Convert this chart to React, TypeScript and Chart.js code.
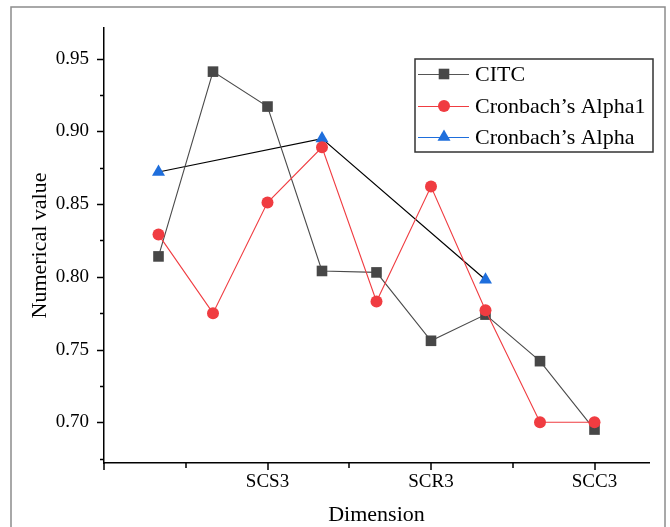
import React, { useEffect, useRef } from 'react';
import { Chart, registerables } from 'chart.js';

Chart.register(...registerables);

const categories = ['SCS1', 'SCS2', 'SCS3', 'SCR1', 'SCR2', 'SCR3', 'SCC1', 'SCC2', 'SCC3'];
const citcValues = [0.814, 0.941, 0.917, 0.804, 0.803, 0.756, 0.774, 0.742, 0.695];
const alpha1Values = [0.829, 0.775, 0.851, 0.889, 0.783, 0.862, 0.777, 0.7, 0.7];
const alphaCategories = ['SCS1', 'SCR1', 'SCC1'];
const alphaValues = [0.872, 0.895, 0.798];
const xTickLabels = ['SCS3', 'SCR3', 'SCC3'];
const yMajorTicks = [0.7, 0.75, 0.8, 0.85, 0.9, 0.95];
const yMinorTicks = [0.675, 0.725, 0.775, 0.825, 0.875, 0.925];
const seriesNames = ['CITC', 'Cronbach\u2019s Alpha1', 'Cronbach\u2019s Alpha'];

const FONT = '"Liberation Serif", "Times New Roman", serif';
const GRAY = '#474747';
const RED = '#f03c41';
const BLUE = '#1e6edc';

const xPos = (c: string) => categories.indexOf(c) + 1;
const xMajorPos = xTickLabels.map(xPos);

function drawMarker(ctx: CanvasRenderingContext2D, style: string, x: number, y: number, color: string) {
  ctx.save();
  ctx.fillStyle = color;
  ctx.beginPath();
  if (style === 'rect') {
    ctx.rect(x - 5.3, y - 5.3, 10.6, 10.6);
  } else if (style === 'circle') {
    ctx.arc(x, y, 6, 0, Math.PI * 2);
  } else {
    const r = 7.5;
    ctx.moveTo(x, y - r);
    ctx.lineTo(x + r * 0.866, y + r * 0.5);
    ctx.lineTo(x - r * 0.866, y + r * 0.5);
    ctx.closePath();
  }
  ctx.fill();
  ctx.restore();
}

const framePlugin = {
  id: 'frame',
  beforeDraw(chart: any) {
    const ctx = chart.ctx;
    ctx.save();
    ctx.fillStyle = '#fff';
    ctx.fillRect(0, 0, chart.width, chart.height);
    ctx.strokeStyle = '#8c8c8c';
    ctx.lineWidth = 1.5;
    ctx.strokeRect(11, 7, 654, 540);
    ctx.restore();
  },
};

const ticksPlugin = {
  id: 'customTicks',
  afterDraw(chart: any) {
    const ctx = chart.ctx;
    const xs = chart.scales.x;
    const ys = chart.scales.y;
    const area = chart.chartArea;
    ctx.save();
    ctx.strokeStyle = '#000';
    ctx.lineWidth = 1.5;
    ctx.beginPath();
    yMajorTicks.forEach((v) => {
      const y = Math.round(ys.getPixelForValue(v)) + 0.5;
      ctx.moveTo(area.left - 7, y);
      ctx.lineTo(area.left, y);
    });
    yMinorTicks.forEach((v) => {
      const y = Math.round(ys.getPixelForValue(v)) + 0.5;
      ctx.moveTo(area.left - 4, y);
      ctx.lineTo(area.left, y);
    });
    const xt = [0, 1.5, 3, 4.5, 6, 7.5, 9];
    xt.forEach((v) => {
      const x = Math.round(xs.getPixelForValue(v));
      const major = xMajorPos.includes(v) || v === 0;
      ctx.moveTo(x, area.bottom);
      ctx.lineTo(x, area.bottom + (major ? 7 : 5));
    });
    ctx.stroke();
    ctx.restore();
  },
};

const legendPlugin = {
  id: 'customLegend',
  afterDraw(chart: any) {
    const ctx = chart.ctx;
    ctx.save();
    ctx.strokeStyle = '#333';
    ctx.lineWidth = 1.5;
    ctx.strokeRect(415, 59, 238, 93);
    const rows = [
      { y: 74, color: GRAY, line: '#555', style: 'rect' },
      { y: 106, color: RED, line: RED, style: 'circle' },
      { y: 137, color: BLUE, line: BLUE, style: 'triangle' },
    ];
    rows.forEach((r, i) => {
      ctx.strokeStyle = r.line;
      ctx.lineWidth = 1;
      ctx.beginPath();
      ctx.moveTo(418, r.y + 0.5);
      ctx.lineTo(469, r.y + 0.5);
      ctx.stroke();
      drawMarker(ctx, r.style, 444, r.y, r.color);
      ctx.fillStyle = '#000';
      ctx.font = `22px ${FONT}`;
      ctx.textBaseline = 'middle';
      ctx.textAlign = 'left';
      ctx.fillText(seriesNames[i], 475, r.y + 1);
    });
    ctx.restore();
  },
};

export default function App() {
  const ref = useRef<HTMLCanvasElement>(null);
  useEffect(() => {
    if (!ref.current) return;
    const chart = new Chart(ref.current, {
      type: 'line',
      data: {
        datasets: [
          {
            label: seriesNames[0],
            data: citcValues.map((v, i) => ({ x: xPos(categories[i]), y: v })),
            borderColor: '#4a4a4a',
            borderWidth: 1.1,
            pointStyle: 'rect',
            pointRadius: 7.5,
            pointBackgroundColor: GRAY,
            pointBorderColor: GRAY,
            pointBorderWidth: 0,
            order: 1,
          },
          {
            label: seriesNames[1],
            data: alpha1Values.map((v, i) => ({ x: xPos(categories[i]), y: v })),
            borderColor: RED,
            borderWidth: 1.1,
            pointStyle: 'circle',
            pointRadius: 6,
            pointBackgroundColor: RED,
            pointBorderColor: RED,
            pointBorderWidth: 0,
            order: 0,
          },
          {
            label: seriesNames[2],
            data: alphaValues.map((v, i) => ({ x: xPos(alphaCategories[i]), y: v })),
            borderColor: '#000',
            borderWidth: 1.2,
            pointStyle: 'triangle',
            pointRadius: 7.5,
            pointBackgroundColor: BLUE,
            pointBorderColor: BLUE,
            pointBorderWidth: 0,
            order: 2,
          },
        ],
      },
      options: {
        responsive: false,
        animation: false,
        layout: { padding: { top: 28, right: 21, left: 0, bottom: 0 } },
        plugins: { legend: { display: false }, tooltip: { enabled: false } },
        scales: {
          x: {
            type: 'linear',
            min: 0,
            max: 10,
            afterFit: (s: any) => {
              s.height = 64;
            },
            afterBuildTicks: (s: any) => {
              s.ticks = xMajorPos.map((v) => ({ value: v }));
            },
            grid: { display: false },
            border: { display: true, color: '#000', width: 1.5 },
            ticks: {
              autoSkip: false,
              maxRotation: 0,
              padding: 0,
              color: '#000',
              font: { family: FONT, size: 19 },
              callback: (v: any) => {
                const i = xMajorPos.indexOf(v);
                return i >= 0 ? xTickLabels[i] : '';
              },
            },
            title: {
              display: true,
              text: 'Dimension',
              color: '#000',
              font: { family: FONT, size: 22 },
              padding: { top: 0, bottom: -1 },
            },
          },
          y: {
            type: 'linear',
            min: 0.672,
            max: 0.971,
            afterFit: (s: any) => {
              s.width = 104;
            },
            afterBuildTicks: (s: any) => {
              s.ticks = yMajorTicks.map((v) => ({ value: v }));
            },
            grid: { display: false },
            border: { display: true, color: '#000', width: 1.5 },
            ticks: {
              autoSkip: false,
              padding: 7,
              color: '#000',
              font: { family: FONT, size: 19 },
              callback: (v: any) => Number(v).toFixed(2),
            },
            title: {
              display: true,
              text: 'Numerical value',
              color: '#000',
              font: { family: FONT, size: 22 },
              padding: { top: 27, bottom: 0 },
            },
          },
        },
      },
      plugins: [framePlugin, ticksPlugin, legendPlugin],
    });
    return () => chart.destroy();
  }, []);
  return (
    <div style={{ position: 'absolute', left: 0, top: 0, width: 670, height: 527 }}>
      <canvas ref={ref} width={670} height={527} style={{ width: 670, height: 527, display: 'block' }} />
    </div>
  );
}
